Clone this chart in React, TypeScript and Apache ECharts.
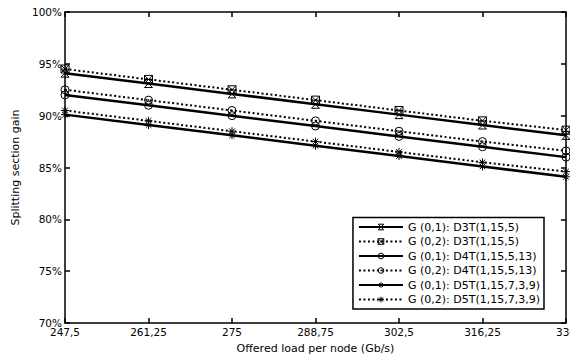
import React, { useEffect, useRef } from "react";
import * as echarts from "echarts";

const loads = [247.5, 261.25, 275, 288.75, 302.5, 316.25, 330];
const d3tG01 = [94.1, 93.1, 92.1, 91.1, 90.1, 89.1, 88.1];
const d3tG02 = [94.5, 93.5, 92.5, 91.5, 90.5, 89.5, 88.6];
const d4tG01 = [92.0, 91.0, 90.0, 89.0, 88.0, 87.0, 86.0];
const d4tG02 = [92.5, 91.5, 90.5, 89.5, 88.5, 87.5, 86.6];
const d5tG01 = [90.1, 89.1, 88.1, 87.1, 86.1, 85.1, 84.1];
const d5tG02 = [90.5, 89.5, 88.5, 87.5, 86.5, 85.5, 84.6];
const seriesNames = [
  "G (0,1): D3T(1,15,5)",
  "G (0,2): D3T(1,15,5)",
  "G (0,1): D4T(1,15,5,13)",
  "G (0,2): D4T(1,15,5,13)",
  "G (0,1): D5T(1,15,7,3,9)",
  "G (0,2): D5T(1,15,7,3,9)",
];
const seriesValues = [d3tG01, d3tG02, d4tG01, d4tG02, d5tG01, d5tG02];

const hourglass = "path://M0,0L10,0L0,10L10,10Z";
const hourglassBox = "path://M0,0L10,0L0,10L10,10Z M0,0L0,10 M10,0L10,10";
const circleSym = "path://M0,5A5,5 0 1,0 10,5A5,5 0 1,0 0,5Z";
const circleDot = "path://M0,5A5,5 0 1,0 10,5A5,5 0 1,0 0,5Z M4.4,5A0.6,0.6 0 1,0 5.6,5A0.6,0.6 0 1,0 4.4,5Z";
const asterisk = "path://M5,0L5,10 M0,5L10,5 M1.5,1.5L8.5,8.5 M8.5,1.5L1.5,8.5";
const symbols = [hourglass, hourglassBox, circleSym, circleDot, asterisk, asterisk];

const FONT = "DejaVu Sans";

export default function App() {
  const ref = useRef<HTMLDivElement>(null);
  useEffect(() => {
    if (!ref.current) return;
    const chart = echarts.init(ref.current, null, { renderer: "svg" });
    const axisCommon = {
      type: "value" as const,
      axisLine: { show: true, lineStyle: { color: "#000", width: 1.5 } },
      axisTick: { show: true, inside: true, length: 5, lineStyle: { color: "#000", width: 1.5 } },
      splitLine: { show: false },
    };
    chart.setOption({
      animation: false,
      backgroundColor: "#fff",
      textStyle: { fontFamily: FONT },
      grid: { left: 65, right: 4, top: 12, bottom: 37, containLabel: false, outerBoundsMode: "none" },
      xAxis: [
        {
          ...axisCommon,
          position: "bottom",
          min: 247.5,
          max: 330,
          interval: 13.75,
          name: "Offered load per node (Gb/s)",
          nameLocation: "middle",
          nameGap: 20,
          nameTextStyle: { color: "#000", fontSize: 11, fontFamily: FONT },
          axisLabel: {
            color: "#000",
            fontSize: 10.5,
            fontFamily: FONT,
            margin: 3,
            formatter: (v: number) => String(v).replace(".", ","),
          },
        },
        {
          ...axisCommon,
          position: "top",
          min: 247.5,
          max: 330,
          interval: 13.75,
          axisLabel: { show: false },
        },
      ],
      yAxis: [
        {
          ...axisCommon,
          position: "left",
          min: 70,
          max: 100,
          interval: 5,
          name: "Splitting section gain",
          nameLocation: "middle",
          nameGap: 44,
          nameTextStyle: { color: "#000", fontSize: 11, fontFamily: FONT },
          axisLabel: { color: "#000", fontSize: 10.5, fontFamily: FONT, margin: 3, formatter: "{value}%" },
        },
        {
          ...axisCommon,
          position: "right",
          min: 70,
          max: 100,
          interval: 5,
          axisLabel: { show: false },
        },
      ],
      legend: {
        right: 26,
        bottom: 51,
        orient: "vertical",
        backgroundColor: "#fff",
        borderColor: "#000",
        borderWidth: 1.5,
        borderRadius: 0,
        padding: [4, 4, 4, 5],
        itemWidth: 44,
        itemHeight: 7,
        itemGap: 3.5,
        itemStyle: { color: "rgba(0,0,0,0)", borderColor: "#000", borderWidth: 1 },
        textStyle: { color: "#000", fontSize: 11, fontFamily: FONT },
        data: seriesNames,
      },
      series: seriesNames.map((name, i) => ({
        name,
        type: "line",
        xAxisIndex: 0,
        yAxisIndex: 0,
        data: loads.map((x, k) => [x, seriesValues[i][k]]),
        symbol: symbols[i],
        symbolSize: 8,
        showSymbol: true,
        color: "#000",
        itemStyle: { color: "rgba(0,0,0,0)", borderColor: "#000", borderWidth: 1 },
        lineStyle: { color: "#000", width: i % 2 === 0 ? 2.5 : 2, type: i % 2 === 0 ? "solid" : [2, 2.5] },
        z: 2,
      })),
    });
    return () => chart.dispose();
  }, []);
  return <div ref={ref} style={{ width: 570, height: 360, position: "absolute", left: 0, top: 0 }} />;
}
